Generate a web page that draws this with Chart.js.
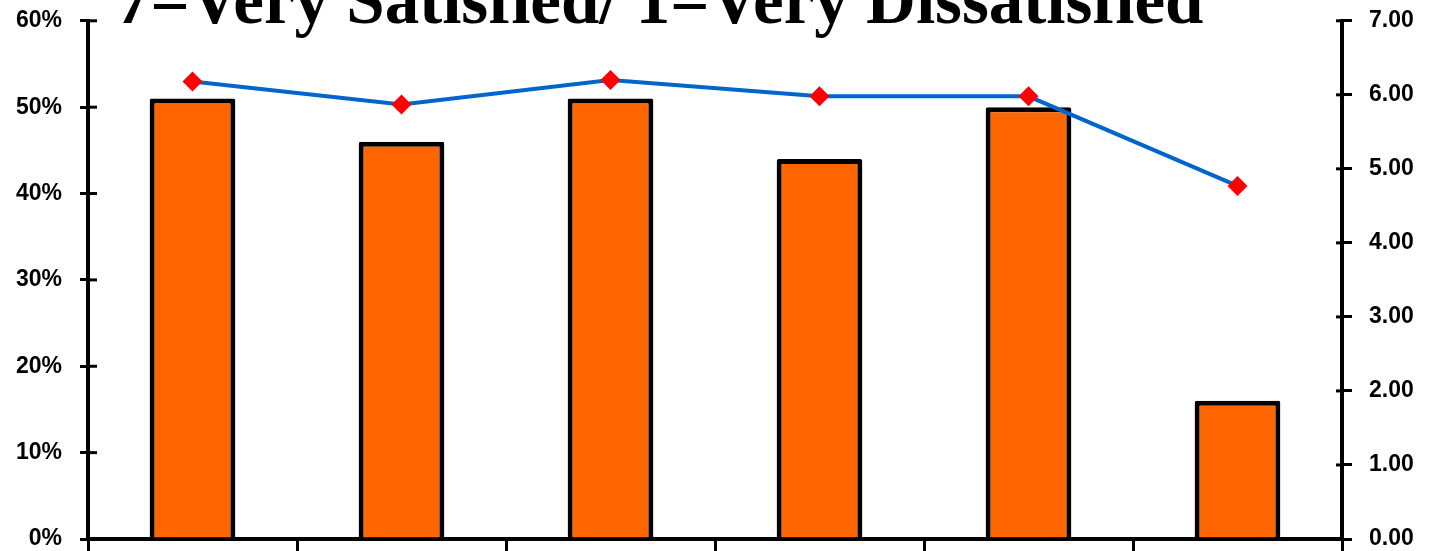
<!DOCTYPE html>
<html>
<head>
<meta charset="utf-8">
<script src="https://cdn.jsdelivr.net/npm/chart.js@4/dist/chart.umd.min.js"></script>
<style>
  html, body { margin: 0; padding: 0; background: #ffffff; overflow: hidden; }
  #wrap { position: relative; width: 1431px; height: 551px; overflow: hidden; }
  #chartBox { position: absolute; left: 0; top: -11px; width: 1431px; height: 600px; }
  #title { position: absolute; left: 116px; top: -34px; font-family: "Liberation Serif", "Times New Roman", serif;
           font-weight: bold; font-size: 69px; line-height: 69px; color: #000; white-space: nowrap; z-index: 2; }
</style>
</head>
<body>
<div id="wrap">
  <div id="chartBox"><canvas id="c" width="1431" height="600"></canvas></div>
  <div id="title">7=Very Satisfied/ 1=Very Dissatisfied</div>
</div>
<script>
// Data
const categories = ["1", "2", "3", "4", "5", "6"];
const percentSatisfied = [51, 46, 51, 44, 50, 16];      // left axis, %
const meanRating = [6.18, 5.87, 6.20, 5.98, 5.98, 4.77]; // right axis, 1-7 scale
const leftTicks = { min: 0, max: 60, step: 10 };
const rightTicks = { min: 0, max: 7, step: 1 };

const tickFont = { family: "Liberation Sans", weight: "bold", size: 23 };

// draws the inward half of the crossing tick marks on both value axes
const innerTicks = {
  id: 'innerTicks',
  afterDraw(chart) {
    const ctx = chart.ctx;
    ctx.save();
    ctx.strokeStyle = '#000';
    ctx.lineWidth = 3;
    [['y', 9], ['y1', -6]].forEach(([id, len]) => {
      const s = chart.scales[id];
      const x = id === 'y' ? s.right : s.left;
      s.ticks.forEach((t, i) => {
        const py = s.getPixelForTick(i);
        ctx.beginPath();
        ctx.moveTo(x, py);
        ctx.lineTo(x + len, py);
        ctx.stroke();
      });
    });
    ctx.restore();
  }
};

new Chart(document.getElementById('c'), {
  data: {
    labels: categories,
    datasets: [
      {
        type: 'line',
        data: meanRating,
        yAxisID: 'y1',
        borderColor: '#0066CC',
        borderWidth: 4,
        pointStyle: 'rectRot',
        pointRadius: 10,
        pointHoverRadius: 10,
        pointBackgroundColor: '#FF0000',
        pointBorderColor: '#FF0000',
        pointBorderWidth: 0,
        tension: 0,
        order: 0
      },
      {
        type: 'bar',
        data: percentSatisfied,
        yAxisID: 'y',
        backgroundColor: '#FF6600',
        borderColor: '#000000',
        borderWidth: 5,
        borderRadius: 2,
        borderSkipped: 'bottom',
        categoryPercentage: 1,
        barPercentage: 0.41,
        order: 1
      }
    ]
  },
  plugins: [innerTicks],
  options: {
    responsive: false,
    animation: false,
    devicePixelRatio: 1,
    layout: { padding: { top: 10, left: 0, right: 0, bottom: 0 } },
    plugins: { legend: { display: false }, title: { display: false }, tooltip: { enabled: false } },
    scales: {
      x: {
        offset: true,
        ticks: { display: false },
        grid: { offset: true, drawOnChartArea: false, drawTicks: true, tickLength: 20, color: '#000', lineWidth: 3 },
        border: { display: true, color: '#000', width: 4 },
        afterFit(s) { s.height = 50; }
      },
      y: {
        position: 'left',
        min: leftTicks.min, max: leftTicks.max,
        ticks: { stepSize: leftTicks.step, color: '#000', font: tickFont, padding: 18,
                 callback: v => v + '%' },
        grid: { drawOnChartArea: false, drawTicks: true, tickLength: 8, color: '#000', lineWidth: 3 },
        border: { display: true, color: '#000', width: 4 },
        afterFit(s) { s.width = 88; }
      },
      y1: {
        position: 'right',
        min: rightTicks.min, max: rightTicks.max,
        ticks: { stepSize: rightTicks.step, color: '#000', font: tickFont, padding: 17,
                 callback: v => Number(v).toFixed(2) },
        grid: { drawOnChartArea: false, drawTicks: true, tickLength: 10, color: '#000', lineWidth: 3 },
        border: { display: true, color: '#000', width: 4 },
        afterFit(s) { s.width = 89; }
      }
    }
  }
});
</script>
</body>
</html>
